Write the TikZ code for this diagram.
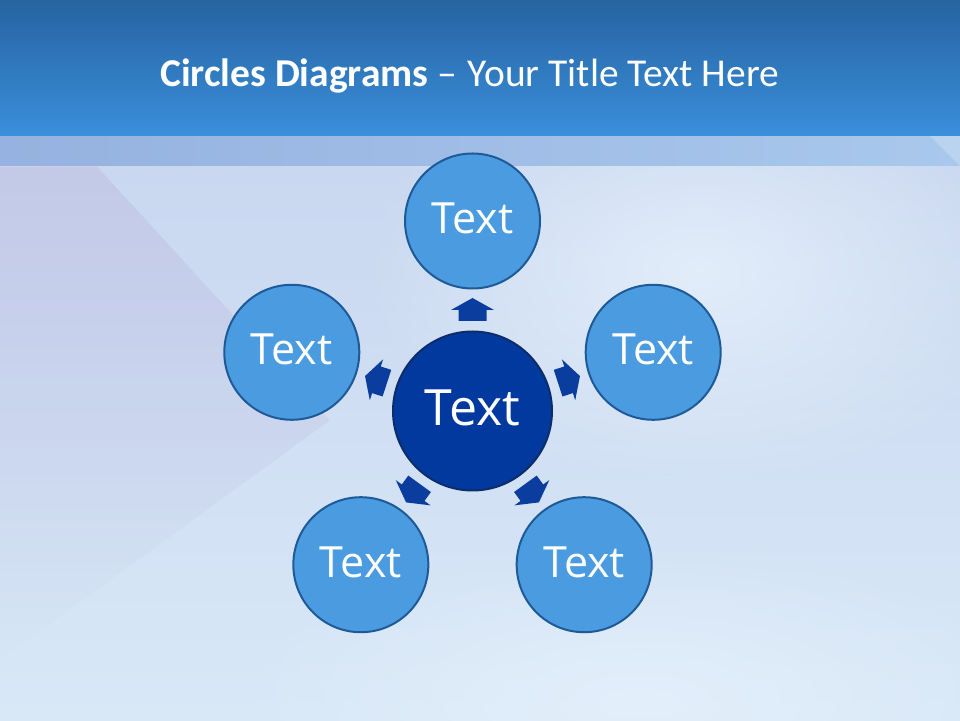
\documentclass[tikz,border=0pt]{standalone}
\usepackage{fontspec}
\setmainfont{Carlito}
\newfontfamily\circfont{Open Sans}
\usetikzlibrary{calc,fadings}
\definecolor{hdrTop}{HTML}{2663A1}
\definecolor{hdrBot}{HTML}{3A8FDB}
\definecolor{bandL}{HTML}{95B2E0}
\definecolor{bandR}{HTML}{A9C8EC}
\definecolor{bgTop}{HTML}{C9D7F0}
\definecolor{bgBot}{HTML}{D8E8F7}
\definecolor{bgPurple}{HTML}{BFC1E2}
\definecolor{glowCol}{HTML}{E8F2FC}
\definecolor{satFill}{HTML}{4B9BE1}
\definecolor{satLine}{HTML}{1E5A98}
\definecolor{hubFill}{HTML}{01399F}
\definecolor{hubLine}{HTML}{0C2D6A}
\definecolor{arrowFill}{HTML}{0A3D9E}
\tikzfading[name=softglow, inner color=transparent!0, outer color=transparent!100]
\tikzset{
  sat/.style={circle, fill=satFill, draw=satLine, line width=2pt, minimum size=135pt, inner sep=0pt,
    text=white, text depth=5.5pt, font=\circfont\fontsize{43}{43}\selectfont},
  hub/.style={circle, fill=hubFill, draw=hubLine, line width=2pt, minimum size=159pt, inner sep=0pt,
    text=white, text depth=6pt, font=\circfont\fontsize{50}{50}\selectfont},
  blockarrow/.style={fill=arrowFill},
  glow/.style={fill=glowCol, path fading=softglow}
}
\begin{document}
\begin{tikzpicture}[x=1pt,y=1pt]
\useasboundingbox (0,0) rectangle (960,720);
% background
\shade[top color=bgTop, bottom color=bgBot] (0,0) rectangle (960,554);
\fill[bgPurple, opacity=0.6, path fading=south] (0,554) -- (97,554) -- (330,300) -- (0,60) -- cycle;
\fill[glow, opacity=0.8] (700,450) ellipse (340 and 220);
\fill[glow, opacity=0.7] (640,20) ellipse (420 and 160);
% band
\shade[left color=bandL, right color=bandR] (0,554) rectangle (960,584);
\fill[white, opacity=0.2] (930,584) -- (960,584) -- (960,554) -- cycle;
% header
\shade[top color=hdrTop, bottom color=hdrBot] (0,584) rectangle (960,720);
\node[anchor=base west, text=white, inner sep=0pt, font=\fontsize{39.5}{40}\selectfont]
  (title) at (160,633.3) {\textbf{Circles Diagrams} –\hspace{2pt} Your Title Text Here};
% diagram
\coordinate (c) at (472.5,309);
\foreach \a in {90,18,-54,-126,162}
  \fill[blockarrow, shift={(c)}, rotate=\a]
    (90,-14) -- (101,-14) -- (101,-21.5) -- (113,0) -- (101,21.5) -- (101,14) -- (90,14) -- cycle;
\node[hub] (hub) at (c) {Text};
\node[sat] (o1) at ($(c)+(90:190)$) {Text};
\node[sat] (o2) at ($(c)+(18:190)$) {Text};
\node[sat] (o3) at ($(c)+(-54:190)$) {Text};
\node[sat] (o4) at ($(c)+(-126:190)$) {Text};
\node[sat] (o5) at ($(c)+(162:190)$) {Text};
\end{tikzpicture}
\end{document}
